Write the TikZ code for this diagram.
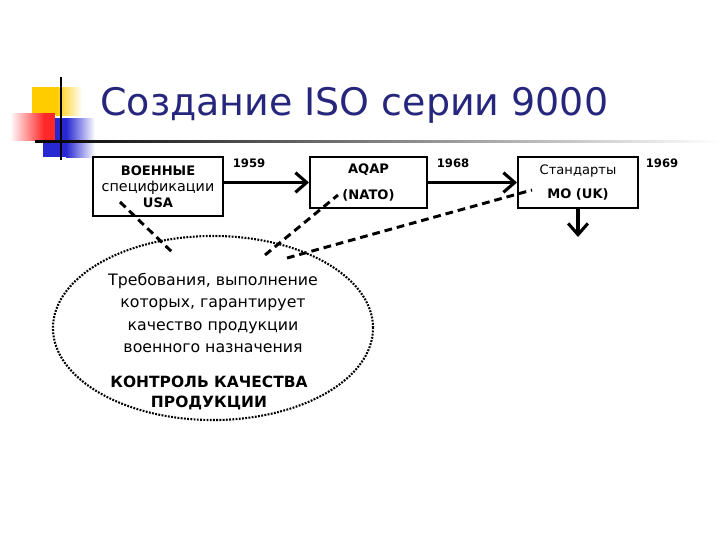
\documentclass[tikz,border=0pt]{standalone}
\usepackage{fontspec}
\setmainfont{DejaVu Sans}
\usetikzlibrary{arrows.meta,shapes.geometric}
\definecolor{titleblue}{RGB}{38,38,125}
\definecolor{decoyellow}{RGB}{255,204,0}
\definecolor{decored}{RGB}{255,40,40}
\definecolor{decoblue}{RGB}{40,40,210}

\begin{document}
\begin{tikzpicture}[
    x=0.025cm, y=-0.025cm,
    box/.style={rectangle, draw, line width=1.4pt, inner sep=0pt, align=center, font=\fontsize{9.3}{11.4}\selectfont},
    yr/.style={font=\fontsize{8.3}{10}\selectfont\bfseries},
    txt/.style={align=center, inner sep=0pt, font=\fontsize{11.2}{15.9}\selectfont},
    flow/.style={-{Straight Barb[length=8pt,width=14pt,line width=2.2pt]}, line width=2.6pt},
    link/.style={line width=2.1pt, dash pattern=on 5.5pt off 3.5pt},
    area/.style={ellipse, draw, line width=1.5pt, dash pattern=on 1.3pt off 1pt, inner sep=0pt}
]
\useasboundingbox (0,0) rectangle (720,540);

% Title decoration
\fill[decoyellow] (32,87) rectangle (56,115);
\shade[left color=decoyellow, right color=white] (56,87) rectangle (82,115);
\fill[decoblue] (43,118) rectangle (66,157);
\shade[left color=decoblue, right color=white] (66,118) rectangle (95,157);
\shade[left color=white, right color=decored] (10,113) rectangle (44,140);
\fill[decored] (44,113) rectangle (55,140);
\shade[left color=black, right color=white] (35,140) rectangle (720,142.5);
\draw[line width=1.6pt] (61,77) -- (61,160);

% Title
\node[anchor=base west, inner sep=0pt, text=titleblue, font=\fontsize{27}{30}\selectfont] (title) at (100,115) {Создание ISO серии 9000};

% Boxes
\node[box, minimum width=3.25cm, minimum height=1.475cm] (mil) at (158,186.5) {\textbf{ВОЕННЫЕ}\\{\fontsize{10.2}{11.4}\selectfont спецификации}\\\textbf{USA}};
\node[box, minimum width=2.925cm, minimum height=1.275cm] (aqap) at (368.5,182.5) {\textbf{AQAP}\\[7pt]\textbf{(NATO)}};
\node[box, minimum width=3cm, minimum height=1.275cm] (mo) at (578,182.5) {Стандарты\\[5.5pt]\textbf{МО (UK)}};

% Years
\node[yr] (y59) at (249,163) {1959};
\node[yr] (y68) at (453,163) {1968};
\node[yr] (y69) at (662,163) {1969};

% Ellipse
\node[area, minimum width=8cm, minimum height=4.6cm] (qa) at (213,328) {};
\node[txt] (req) at (213,313) {Требования, выполнение\\которых, гарантирует\\качество продукции\\военного назначения};
\node[txt, font=\fontsize{11}{14.2}\selectfont\bfseries] (qc) at (209,393) {КОНТРОЛЬ КАЧЕСТВА\\ПРОДУКЦИИ};

% Flow
\coordinate (out) at (578,237);
\draw[flow] (mil.east |- aqap.west) -- (aqap.west);
\draw[flow] (aqap.east) -- (mo.west);
\draw[flow] (mo.south) -- (out);

% Dashed links
\coordinate (l1a) at (120,202);
\coordinate (l1b) at (172,252);
\coordinate (l2a) at (265,255);
\coordinate (l2b) at (338,195);
\coordinate (l3a) at (287,258);
\coordinate (l3b) at (532,190);
\draw[link] (l1a) -- (l1b);
\draw[link] (l2a) -- (l2b);
\draw[link] (l3a) -- (l3b);

\end{tikzpicture}
\end{document}
